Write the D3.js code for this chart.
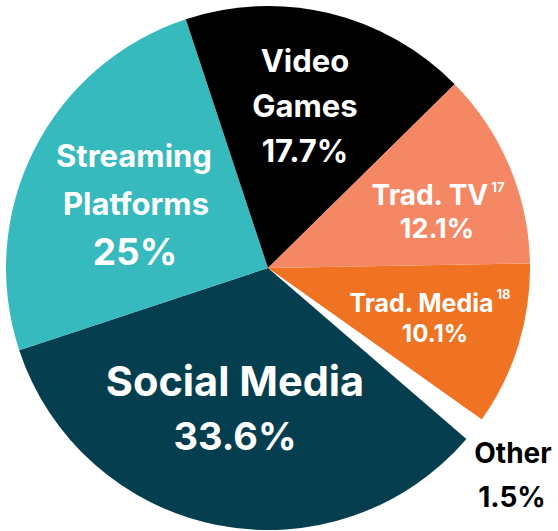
<!DOCTYPE html>
<html>
<head>
<meta charset="utf-8">
<script src="https://cdn.jsdelivr.net/npm/d3@7"></script>
<style>
html,body{margin:0;padding:0;background:#fff;}
svg{display:block;font-family:Inter,"Open Sans",sans-serif;font-weight:700;}
</style>
</head>
<body>
<svg id="chart" width="558" height="531"></svg>
<script>
const categories = ["Trad. Media", "Other", "Social Media", "Streaming Platforms", "Video Games", "Trad. TV"];
const values = [10.1, 1.5, 33.6, 25, 17.7, 12.1];
const valueLabels = ["10.1%", "1.5%", "33.6%", "25%", "17.7%", "12.1%"];
const footnotes = ["18", "", "", "", "", "17"];
const colors = ["#F07223", "#FFFFFF", "#053E4F", "#36BABD", "#000000", "#F58864"];

const svg = d3.select("#chart");
const cx = 268, cy = 268, r = 262;
const g = svg.append("g").attr("transform", `translate(${cx},${cy})`);

const data = categories.map((c, i) => ({cat: c, value: values[i], label: valueLabels[i], fn: footnotes[i], color: colors[i]}));
const start = 89 * Math.PI / 180;
const pie = d3.pie().value(d => d.value).sort(null).startAngle(start).endAngle(start + 2 * Math.PI);
const arc = d3.arc().innerRadius(0).outerRadius(r);
const arcs = pie(data);

g.selectAll("path").data(arcs).join("path")
  .attr("d", arc)
  .attr("fill", d => d.data.color);

// [text, x, baseline y, font size]
const labelSpec = {
  "Video Games": {lines: [["Video", 305, 72, 31], ["Games", 305, 117, 31], ["17.7%", 305, 162, 31]], fill: "#fff"},
  "Streaming Platforms": {lines: [["Streaming", 134, 167, 31], ["Platforms", 136, 215, 31], ["25%", 135, 265, 37]], fill: "#fff"},
  "Trad. TV": {lines: [["Trad. TV", 438, 205, 28], ["12.1%", 437, 238, 27]], fill: "#fff"},
  "Trad. Media": {lines: [["Trad. Media", 430, 312, 25], ["10.1%", 435, 342, 24]], fill: "#fff"},
  "Social Media": {lines: [["Social Media", 235, 396, 41.5], ["33.6%", 235, 450, 38]], fill: "#fff"},
  "Other": {lines: [["Other", 513, 463, 28], ["1.5%", 512, 507, 28]], fill: "#000"}
};

arcs.forEach(a => {
  const spec = labelSpec[a.data.cat];
  spec.lines.forEach((ln, i) => {
    const t = svg.append("text")
      .attr("x", ln[1])
      .attr("y", ln[2])
      .attr("text-anchor", "middle")
      .attr("font-size", ln[3])
      .attr("fill", spec.fill)
      .text(ln[0]);
    if (i === 0 && a.data.fn) {
      t.append("tspan").attr("font-size", 13).attr("dy", -13).attr("dx", 3).text(a.data.fn);
    }
  });
});
</script>
</body>
</html>
